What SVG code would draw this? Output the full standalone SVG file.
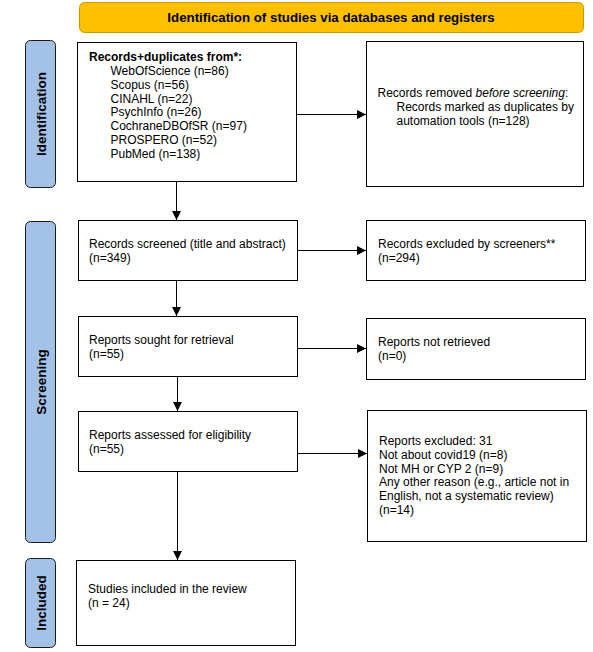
<svg xmlns="http://www.w3.org/2000/svg" width="593" height="652" viewBox="0 0 593 652">
<style>
.box{fill:#ffffff;stroke:#000000;stroke-width:1}
.side{fill:#a4c2e8;stroke:#1a1a1a;stroke-width:1}
.hdr{fill:#ffc000;stroke:#c89a00;stroke-width:1}
.t{font-family:"Liberation Sans",Arial,sans-serif;font-size:12px;fill:#000000}
.b{font-weight:bold}
.h{font-size:13.3px}
.s{font-size:13.5px}
.c{stroke:#000000;stroke-width:1;fill:none}
</style>
<defs>
<marker id="ah" markerUnits="userSpaceOnUse" markerWidth="9" markerHeight="9" refX="9" refY="4.5" orient="auto">
<path d="M0,0 L9,4.5 L0,9 z" fill="#000000"/>
</marker>
</defs>
<rect width="593" height="652" fill="#ffffff"/>
<g id="header">
<rect class="hdr" x="79.5" y="2.5" width="504" height="30" rx="5"/>
<text class="t b h" x="331" y="22" text-anchor="middle">Identification of studies via databases and registers</text>
</g>
<g id="side-identification">
<rect class="side" x="25.5" y="40.5" width="30" height="147" rx="5"/>
<text class="t b s" transform="translate(45.5,114) rotate(-90)" text-anchor="middle">Identification</text>
</g>
<g id="side-screening">
<rect class="side" x="25.5" y="221.5" width="30" height="321" rx="5"/>
<text class="t b s" transform="translate(45.5,382) rotate(-90)" text-anchor="middle">Screening</text>
</g>
<g id="side-included">
<rect class="side" x="25.5" y="558.5" width="30" height="89" rx="5"/>
<text class="t b s" transform="translate(45.5,603) rotate(-90)" text-anchor="middle">Included</text>
</g>
<g id="records-identified">
<rect class="box" x="77.5" y="42.5" width="219" height="139"/>
<text class="t b" x="89" y="61">Records+duplicates from*:</text>
<text class="t" x="110.5" y="75">WebOfScience (n=86)</text>
<text class="t" x="110.5" y="88.8">Scopus (n=56)</text>
<text class="t" x="110.5" y="102.6">CINAHL (n=22)</text>
<text class="t" x="110.5" y="116.4">PsychInfo (n=26)</text>
<text class="t" x="110.5" y="130.2">CochraneDBOfSR (n=97)</text>
<text class="t" x="110.5" y="144">PROSPERO (n=52)</text>
<text class="t" x="110.5" y="157.8">PubMed (n=138)</text>
</g>
<g id="records-removed">
<rect class="box" x="366.5" y="41.5" width="217" height="145"/>
<text class="t" x="377.5" y="97">Records removed <tspan font-style="italic">before screening</tspan>:</text>
<text class="t" x="396.5" y="111">Records marked as duplicates by</text>
<text class="t" x="396.5" y="125">automation tools (n=128)</text>
</g>
<g id="records-screened">
<rect class="box" x="78.5" y="220.5" width="219" height="60"/>
<text class="t" x="89" y="248">Records screened (title and abstract)</text>
<text class="t" x="89" y="262">(n=349)</text>
</g>
<g id="records-excluded">
<rect class="box" x="366.5" y="220.5" width="219" height="60"/>
<text class="t" x="378" y="248">Records excluded by screeners**</text>
<text class="t" x="378" y="262">(n=294)</text>
</g>
<g id="reports-sought">
<rect class="box" x="78.5" y="316.5" width="219" height="60"/>
<text class="t" x="89" y="344">Reports sought for retrieval</text>
<text class="t" x="89" y="358">(n=55)</text>
</g>
<g id="reports-not-retrieved">
<rect class="box" x="366.5" y="318.5" width="219" height="61"/>
<text class="t" x="378" y="346">Reports not retrieved</text>
<text class="t" x="378" y="360">(n=0)</text>
</g>
<g id="reports-assessed">
<rect class="box" x="78.5" y="411.5" width="219" height="60"/>
<text class="t" x="89" y="439">Reports assessed for eligibility</text>
<text class="t" x="89" y="453">(n=55)</text>
</g>
<g id="reports-excluded">
<rect class="box" x="367.5" y="410.5" width="219" height="131"/>
<text class="t" x="379" y="445">Reports excluded: 31</text>
<text class="t" x="379" y="458.8">Not about covid19 (n=8)</text>
<text class="t" x="379" y="472.6">Not MH or CYP 2 (n=9)</text>
<text class="t" x="379" y="486.4">Any other reason (e.g., article not in</text>
<text class="t" x="379" y="500.2">English, not a systematic review)</text>
<text class="t" x="379" y="514">(n=14)</text>
</g>
<g id="studies-included">
<rect class="box" x="76.5" y="560.5" width="219" height="85"/>
<text class="t" x="88" y="593">Studies included in the review</text>
<text class="t" x="88" y="607">(n = 24)</text>
</g>
<g id="connectors">
<line class="c" x1="296.5" y1="114.5" x2="366" y2="114.5" marker-end="url(#ah)"/>
<line class="c" x1="176.5" y1="182" x2="176.5" y2="220" marker-end="url(#ah)"/>
<line class="c" x1="297.5" y1="250.5" x2="366" y2="250.5" marker-end="url(#ah)"/>
<line class="c" x1="176.5" y1="281" x2="176.5" y2="316" marker-end="url(#ah)"/>
<line class="c" x1="297.5" y1="348.5" x2="366" y2="348.5" marker-end="url(#ah)"/>
<line class="c" x1="177.5" y1="377" x2="177.5" y2="411" marker-end="url(#ah)"/>
<line class="c" x1="297.5" y1="453.5" x2="367" y2="453.5" marker-end="url(#ah)"/>
<line class="c" x1="177.5" y1="472" x2="177.5" y2="560" marker-end="url(#ah)"/>
</g>
</svg>
